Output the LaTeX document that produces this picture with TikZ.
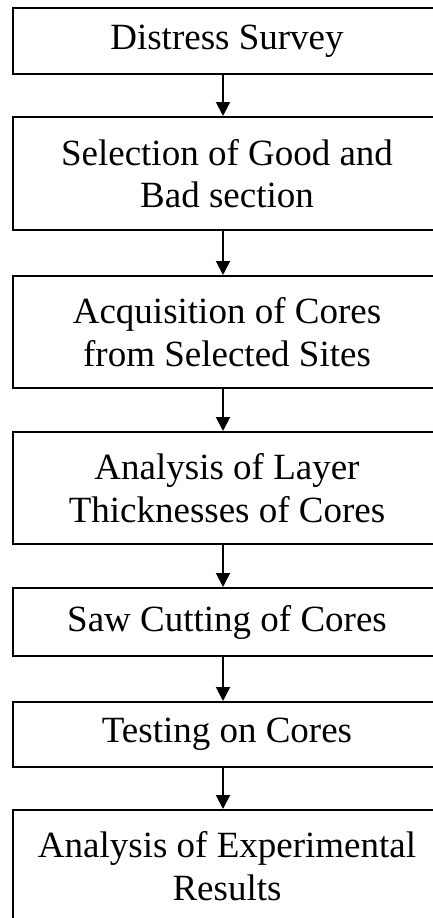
\documentclass[tikz,border=0pt]{standalone}
\usepackage{fontspec}
\setmainfont{Liberation Serif}
\usetikzlibrary{arrows.meta}
\begin{document}
\begin{tikzpicture}[x=1pt,y=-1pt,
  stepbox/.style={draw, line width=2pt, minimum width=428pt, inner sep=0pt,
    align=center, font=\fontsize{37}{42.5}\selectfont},
  flow/.style={-{Triangle[width=14pt,length=14pt]}, line width=2pt}]
\useasboundingbox (0,0) rectangle (433,918);
% process steps (boxes run past the right and bottom page edges)
\node[stepbox, minimum height=66pt]  (s1) at (227,41)    {Distress Survey};
\node[stepbox, minimum height=113pt] (s2) at (227,173.5) {Selection of Good and\\Bad section};
\node[stepbox, minimum height=112pt] (s3) at (227,332)   {Acquisition of Cores\\from Selected Sites};
\node[stepbox, minimum height=112pt] (s4) at (227,488)   {Analysis of Layer\\Thicknesses of Cores};
\node[stepbox, minimum height=68pt]  (s5) at (227,622)   {Saw Cutting of Cores};
\node[stepbox, minimum height=65pt]  (s6) at (227,734.5) {Testing on Cores};
\node[stepbox, minimum height=112pt] (s7) at (227,866)   {Analysis of Experimental\\Results};
% connectors, set slightly left of the box centres
\foreach \a/\b in {s1/s2, s2/s3, s3/s4, s4/s5, s5/s6, s6/s7}
  \draw[flow] ([xshift=-4pt]\a.south) -- ([xshift=-4pt]\b.north);
\end{tikzpicture}
\end{document}
